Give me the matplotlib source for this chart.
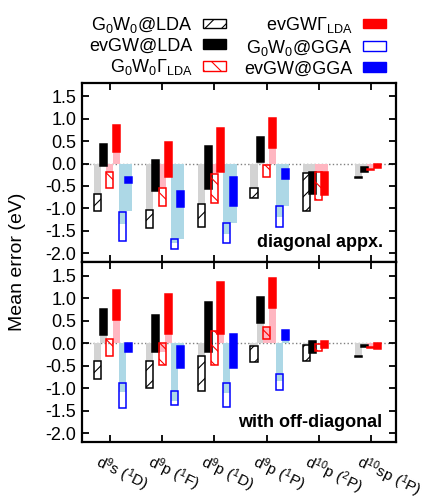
import matplotlib
matplotlib.use("Agg")
import matplotlib.pyplot as plt
from matplotlib.patches import Patch
from matplotlib.transforms import ScaledTranslation

plt.rcParams["font.family"] = ["Liberation Sans", "DejaVu Sans"]
plt.rcParams["mathtext.fontset"] = "custom"
plt.rcParams["mathtext.rm"] = "Liberation Sans"
plt.rcParams["mathtext.it"] = "Liberation Sans:italic"
plt.rcParams["mathtext.bf"] = "Liberation Sans:bold"
plt.rcParams["axes.unicode_minus"] = False
plt.rcParams["hatch.linewidth"] = 0.8

categories = [r"d$^9$s ($^1$D)", r"d$^9$p ($^1$F)", r"d$^9$p ($^1$D)",
              r"d$^9$p ($^1$P)", r"d$^{10}$p ($^2$P)", r"d$^{10}$sp ($^1$P)"]

method_labels = [r"G$_0$W$_0$@LDA", r"evGW@LDA", r"G$_0$W$_0$Γ$_{\rm LDA}$",
                 r"evGWΓ$_{\rm LDA}$", r"G$_0$W$_0$@GGA", r"evGW@GGA"]

# each entry: (light bar end, box bottom, box top); None = not available
diag_g0w0_lda = [(-0.69, -1.07, -0.69), (-1.03, -1.44, -1.03), (-0.90, -1.41, -0.90),
                 (-0.54, -0.76, -0.54), (-0.22, -1.05, -0.22), (-0.30, -0.32, -0.29)]
diag_evgw_lda = [(0.0, -0.06, 0.43), (0.0, -0.62, 0.07), (0.0, -0.56, 0.40),
                 (0.04, 0.04, 0.60), (-0.19, -0.69, -0.19), (-0.08, -0.19, -0.08)]
diag_g0w0_gam = [(-0.20, -0.54, -0.20), (-0.55, -0.94, -0.55), (-0.24, -0.88, -0.24),
                 (-0.04, -0.31, -0.04), (-0.20, -0.81, -0.20), (-0.11, -0.14, -0.12)]
diag_evgw_gam = [(0.26, 0.26, 0.85), (0.0, -0.30, 0.47), (0.0, -0.19, 0.80),
                 (0.34, 0.34, 1.01), (-0.20, -0.71, -0.20), (-0.02, -0.10, -0.02)]
diag_g0w0_gga = [(-1.35, -1.74, -1.08), (-1.78, -1.91, -1.69), (-1.57, -1.77, -1.33),
                 (-1.20, -1.42, -0.94), None, None]
diag_evgw_gga = [(-1.05, -0.43, -0.31), (-1.69, -0.97, -0.62), (-1.33, -0.96, -0.30),
                 (-0.94, -0.34, -0.13), None, None]

off_g0w0_lda = [(-0.40, -0.80, -0.40), (-0.39, -1.01, -0.39), (-0.28, -1.06, -0.28),
                (-0.07, -0.43, -0.07), (-0.05, -0.40, -0.05), (-0.29, -0.31, -0.29)]
off_evgw_lda = [(0.17, 0.17, 0.75), (0.0, -0.19, 0.62), (0.0, -0.19, 0.92),
                (0.45, 0.45, 1.02), (0.0, -0.22, 0.04), (-0.05, -0.09, -0.05)]
off_g0w0_gam = [(0.0, -0.28, 0.10), (-0.20, -0.49, -0.01), (0.0, -0.49, 0.27),
                (0.35, 0.08, 0.35), (0.0, -0.18, -0.02), (-0.08, -0.11, -0.09)]
off_evgw_gam = [(0.51, 0.51, 1.18), (0.19, 0.19, 1.09), (0.20, 0.20, 1.35),
                (0.77, 0.77, 1.45), (0.0, -0.11, 0.04), (0.0, -0.14, 0.0)]
off_g0w0_gga = [(-1.08, -1.45, -0.88), (-1.29, -1.38, -1.06), (-1.10, -1.42, -0.88),
                (-0.84, -1.04, -0.69), None, None]
off_evgw_gga = [(0.0, -0.20, 0.0), (-0.07, -0.56, -0.07), (0.0, -0.56, 0.20),
                (0.06, 0.06, 0.28), None, None]

diag_sets = [diag_g0w0_lda, diag_evgw_lda, diag_g0w0_gam, diag_evgw_gam, diag_g0w0_gga, diag_evgw_gga]
off_sets = [off_g0w0_lda, off_evgw_lda, off_g0w0_gam, off_evgw_gam, off_g0w0_gga, off_evgw_gga]

# (light colour, face, edge, hatch)
styles = [
    ("#d3d3d3", "none", "black", "//"),
    ("#d3d3d3", "black", "black", None),
    ("#ffb6c1", "none", "#ff0000", "\\\\"),
    ("#ffb6c1", "#ff0000", "#ff0000", None),
    ("#add8e6", "none", "#0000ff", None),
    ("#add8e6", "#0000ff", "#0000ff", None),
]

step = 0.12
width = 0.135


def draw_panel(ax, sets):
    ax.axhline(0, color="grey", ls=":", lw=1, zorder=0.5)
    # light bars underneath
    for i, (data, st) in enumerate(zip(sets, styles)):
        for c, entry in enumerate(data):
            if entry is None:
                continue
            x = c + 1 + (i - 2) * step
            ax.bar(x, entry[0], width=width, color=st[0], lw=0, zorder=1)
    # boxes on top
    for i, (data, (light, face, edge, hatch)) in enumerate(zip(sets, styles)):
        for c, entry in enumerate(data):
            if entry is None:
                continue
            lval, lo, hi = entry
            x = c + 1 + (i - 2) * step
            ax.bar(x, max(hi - lo, 0.01), bottom=lo, width=width,
                   facecolor=face, edgecolor=edge, hatch=hatch, lw=1.1, zorder=2 + i * 0.1)
    ax.set_xlim(0.464, 6.479)
    ax.set_ylim(-2.2, 1.8)
    ax.set_xticks(range(1, 7))
    ax.set_yticks([-2.0, -1.5, -1.0, -0.5, 0.0, 0.5, 1.0, 1.5])
    ax.set_yticklabels(["%.1f" % v for v in ax.get_yticks()], fontsize=13)
    ax.tick_params(direction="in", top=True, right=True, length=5, width=1.3, pad=4)
    for s in ax.spines.values():
        s.set_linewidth(1.6)


fig = plt.figure(figsize=(4.36, 4.99), dpi=100)
ax1 = fig.add_axes([0.188, 0.475, 0.720, 0.3587])
ax2 = fig.add_axes([0.188, 0.1142, 0.720, 0.3607])

draw_panel(ax1, diag_sets)
draw_panel(ax2, off_sets)
ax1.set_xticklabels([])
ax2.set_xticklabels([])

ax1.text(0.958, 0.084, "diagonal appx.", transform=ax1.transAxes, ha="right",
         va="baseline", fontsize=13, fontweight="bold")
ax2.text(0.955, 0.085, "with off-diagonal", transform=ax2.transAxes, ha="right",
         va="baseline", fontsize=13, fontweight="bold")

offset = ScaledTranslation(-0.13, -0.19, fig.dpi_scale_trans)
for c, lab in enumerate(categories):
    ax2.text(c + 1, 0, lab, transform=ax2.get_xaxis_transform() + offset,
             rotation=-26, rotation_mode="anchor", ha="left", va="center", fontsize=11)

fig.text(0.041, (499 - 262) / 499, "Mean error (eV)", rotation=90, ha="center",
         va="center", fontsize=14)

handles = []
for light, face, edge, hatch in styles:
    fc = "white" if face == "none" else face
    handles.append(Patch(facecolor=fc, edgecolor=edge, hatch=hatch, lw=1))
fig.legend(handles, method_labels, ncol=2, loc="upper right", markerfirst=False,
           bbox_to_anchor=(386 / 436, 1 - 15 / 499), frameon=False, fontsize=13,
           handlelength=1.28, handleheight=0.45, handletextpad=0.55, columnspacing=1.05,
           labelspacing=0.15, borderpad=0, borderaxespad=0)

fig.savefig("out.png", dpi=100)
